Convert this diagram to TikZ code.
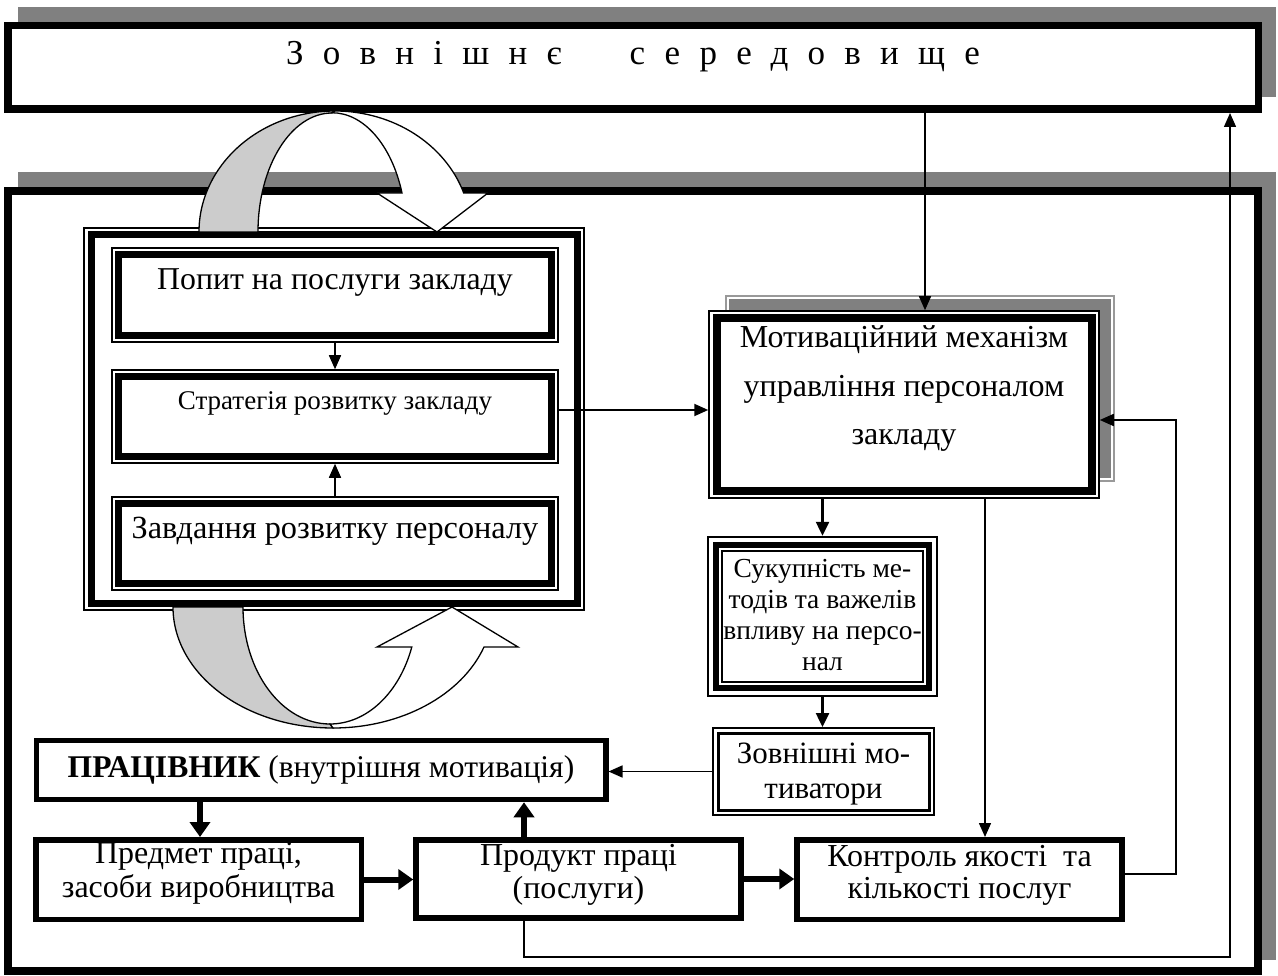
\documentclass[tikz,border=0pt]{standalone}
\usepackage{fontspec}
\setmainfont{Liberation Serif}
\usetikzlibrary{arrows.meta}
\newcommand\tx[2]{\raisebox{#1}[0pt][0pt]{\begin{tabular}[t]{@{}c@{}}#2\end{tabular}}}
\newcommand\fsz[2]{\fontsize{#1}{#2}\selectfont}
\tikzset{
  bx/.style={draw, fill=white, line width=#1, inner sep=0pt},
  ring/.style 2 args={path picture={\draw[line width=#2] ([shift={(#1,-#1)}]path picture bounding box.north west) rectangle ([shift={(-#1,#1)}]path picture bounding box.south east);}},
  ringthree/.style={path picture={
     \draw[line width=6.5pt] ([shift={(8pt,-8pt)}]path picture bounding box.north west) rectangle ([shift={(-8pt,8pt)}]path picture bounding box.south east);
     \draw[line width=1.5pt] ([shift={(14pt,-14pt)}]path picture bounding box.north west) rectangle ([shift={(-14pt,14pt)}]path picture bounding box.south east);}},
  thinar/.style={line width=1.5pt, -{Triangle[length=14pt,width=12pt]}},
  medar/.style={line width=2.5pt, -{Triangle[length=14pt,width=13pt]}},
  thickar/.style={line width=6pt, -{Triangle[length=15pt,width=20pt]}},
  shadow/.style={fill=black!50},
  band/.style={draw, line width=1.3pt},
}
\begin{document}
\begin{tikzpicture}[x=1pt,y=-1pt]
\useasboundingbox (0,0) rectangle (1278,976);
% shadows of the two large frames
\fill[shadow] (18,7) rectangle (1276,97);
\fill[shadow] (18,172) rectangle (1276,960);
% external environment
\node[bx=7.5pt, minimum width=1250.5pt, minimum height=83.5pt,
      font=\fsz{35}{40}\addfontfeature{LetterSpace=55}] (env) at (633,67.5)
      {\tx{2.5pt}{Зовнішнє\hspace{68pt}середовище}};
% organisation frame
\node[bx=8pt, minimum width=1250pt, minimum height=780pt] (org) at (633,581) {};
% left container
\node[bx=2pt, ring={7pt}{7pt}, minimum width=500pt, minimum height=382pt] (cont) at (334,419) {};
\node[bx=1.5pt, ring={6.5pt}{7pt}, minimum width=446pt, minimum height=94pt, font=\fsz{31.8}{36}] (popyt) at (335,295) {\tx{5pt}{Попит на послуги закладу}};
\node[bx=1.5pt, ring={6.5pt}{7pt}, minimum width=446pt, minimum height=93pt, font=\fsz{27}{30}] (strat) at (335,416.5) {\tx{6.5pt}{Стратегія розвитку закладу}};
\node[bx=1.5pt, ring={6.5pt}{7pt}, minimum width=446pt, minimum height=93pt, font=\fsz{32.3}{36}] (zavd) at (335,543.5) {\tx{5.5pt}{Завдання розвитку персоналу}};
% motivation mechanism
\draw[black!40, line width=2pt, fill=white] (726,296) rectangle (1114,481);
\fill[shadow] (729,299) rectangle (1111,478);
\node[bx=1.5pt, ring={7.5pt}{8pt}, minimum width=390pt, minimum height=187pt, font=\fsz{32}{48.5}] (mot) at (904,404.5)
  {\tx{56.5pt}{Мотиваційний механізм\\управління персоналом\\закладу}};
\node[bx=2.5pt, ringthree, minimum width=229pt, minimum height=159pt, font=\fsz{27.5}{31}] (suk) at (822.5,616.5)
  {\tx{39.5pt}{Сукупність ме-\\тодів та важелів\\впливу на персо-\\нал}};
\node[bx=2pt, ring={5pt}{3pt}, minimum width=221pt, minimum height=87pt, font=\fsz{31}{35.5}] (zovn) at (823.5,771.5)
  {\tx{8.5pt}{Зовнішні мо-\\тиватори}};
% bottom row
\node[bx=5.5pt, minimum width=569.5pt, minimum height=59pt, font=\fsz{31.6}{34}] (prac) at (321,770)
  {\tx{-7pt}{\textbf{ПРАЦІВНИК} (внутрішня мотивація)}};
\node[bx=5.5pt, minimum width=325.5pt, minimum height=79.5pt, font=\fsz{32}{34}] (pred) at (198.5,879.5)
  {\tx{16.5pt}{Предмет праці,\\засоби виробництва}};
\node[bx=5.5pt, minimum width=325pt, minimum height=78pt, font=\fsz{32}{33}] (prod) at (578.5,879)
  {\tx{14pt}{Продукт праці\\(послуги)}};
\node[bx=5.5pt, minimum width=325pt, minimum height=79.5pt, font=\fsz{32}{32}] (ctrl) at (959.5,879.5)
  {\tx{13.5pt}{Контроль якості~ та\\кількості послуг}};
% curved arrows
\path[band, fill=black!20] (199,232) arc[start angle=180,end angle=270,x radius=136,y radius=121]
   -- (332,113) arc[start angle=270,end angle=180,x radius=74,y radius=119] -- cycle;
\path[band, fill=white] (335,111) arc[start angle=270,end angle=341.2,x radius=136,y radius=121]
   -- (488,193) -- (437,232) -- (377,193) -- (402,193)
   arc[start angle=341,end angle=270,x radius=74,y radius=119] -- cycle;
\path[band, fill=black!20] (173,607) arc[start angle=180,end angle=90,x radius=160,y radius=121]
   -- (330,724) arc[start angle=90,end angle=180,x radius=87,y radius=117] -- cycle;
\path[band, fill=white] (333,728) arc[start angle=90,end angle=19.3,x radius=160,y radius=121]
   -- (518,647) -- (452,607) -- (377,647) -- (411.8,647)
   arc[start angle=20,end angle=90,x radius=87,y radius=117] -- cycle;
% reference coordinates
\coordinate (cEnv) at (925,0);
\coordinate (cRet) at (1230,957);
\coordinate (cFb) at (1176,0);
\coordinate (cK) at (985,0);
\coordinate (cP) at (524,0);
\coordinate (cW) at (200,0);
\coordinate (yS) at (0,410);
\coordinate (yF) at (0,420);
\coordinate (yC) at (0,874);
% connectors
\draw[thinar] (env.south -| cEnv) -- (mot.north -| cEnv);
\draw[thinar] (prod.south -| cP) |- (cRet) -- (env.south -| cRet);
\draw[thinar] (ctrl.east |- yC) -| (cFb |- yF) -- (mot.east |- yF);
\draw[thinar] (popyt.south) -- (strat.north);
\draw[thinar] (zavd.north) -- (strat.south);
\draw[thinar, line width=2pt] (strat.east |- yS) -- (mot.west |- yS);
\draw[medar] (mot.south -| suk.north) -- (suk.north);
\draw[medar] (suk.south) -- (zovn.north -| suk.south);
\draw[thinar] (zovn.west) -- (prac.east |- zovn.west);
\draw[thinar] (mot.south -| cK) -- (ctrl.north -| cK);
\draw[thickar] (prac.south -| cW) -- (pred.north -| cW);
\draw[thickar] (prod.north -| cP) -- (prac.south -| cP);
\draw[thickar] (pred.east) -- (prod.west |- pred.east);
\draw[thickar] (prod.east) -- (ctrl.west |- prod.east);
\end{tikzpicture}
\end{document}
